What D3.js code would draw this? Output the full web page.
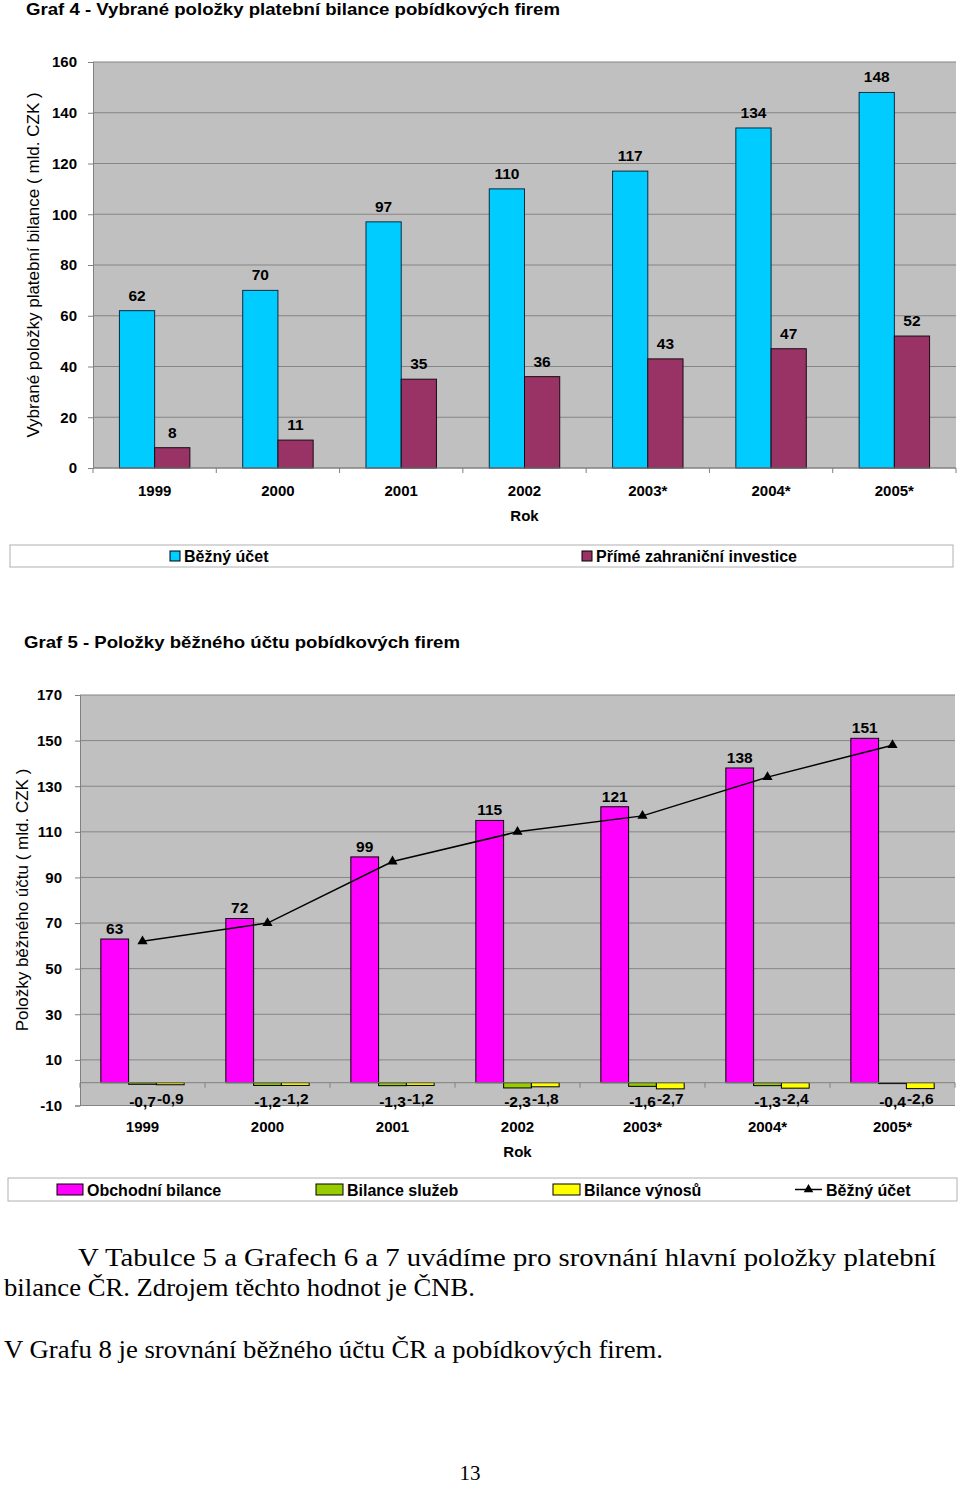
<!DOCTYPE html>
<html>
<head>
<meta charset="utf-8">
<script src="https://cdn.jsdelivr.net/npm/d3@7/dist/d3.min.js"></script>
<style>
  body { margin: 0; background: #fff; }
  svg { display: block; }
</style>
</head>
<body>
<div id="page"></div>
<script>
// ---------------- data ----------------
var years = ["1999", "2000", "2001", "2002", "2003*", "2004*", "2005*"];

// Graf 4
var bezny4 = [62, 70, 97, 110, 117, 134, 148];
var pzi4 = [8, 11, 35, 36, 43, 47, 52];
var ticks4 = [0, 20, 40, 60, 80, 100, 120, 140, 160];

// Graf 5
var obchodni5 = [63, 72, 99, 115, 121, 138, 151];
var sluzby5 = [-0.7, -1.2, -1.3, -2.3, -1.6, -1.3, -0.4];
var vynosy5 = [-0.9, -1.2, -1.2, -1.8, -2.7, -2.4, -2.6];
var bezny5 = [62, 70, 97, 110, 117, 134, 148];
var ticks5 = [-10, 10, 30, 50, 70, 90, 110, 130, 150, 170];

var SANS = "'Liberation Sans', Arial, Helvetica, sans-serif";
var SERIF = "'Liberation Serif', 'Times New Roman', Times, serif";

var fmt = function(v) { return String(v).replace(".", ","); };

var svg = d3.select("#page").append("svg")
    .attr("width", 960)
    .attr("height", 1485);

svg.append("rect").attr("width", 960).attr("height", 1485).attr("fill", "#fff");

//------------------------ helper: one grouped bar chart ------------------------//
function drawChart(cfg) {
    var g = svg.append("g").attr("font-family", SANS);

    var x = d3.scaleBand().domain(years).range([cfg.x0, cfg.x1]).padding(0);
    var n = cfg.series.length;
    var groupW = x.step() * n / (n + 1.5);
    var xs = d3.scaleBand().domain(d3.range(n)).range([-groupW / 2, groupW / 2]).padding(0);
    var y = d3.scaleLinear().domain(cfg.domain).range([cfg.y1, cfg.y0]);

    // plot area
    g.append("rect")
        .attr("x", cfg.x0).attr("y", cfg.y0)
        .attr("width", cfg.x1 - cfg.x0).attr("height", cfg.y1 - cfg.y0)
        .attr("fill", "#c0c0c0");

    // gridlines
    g.selectAll(".grid").data(cfg.ticks).enter().append("line")
        .attr("x1", cfg.x0).attr("x2", cfg.x1)
        .attr("y1", function(d) { return y(d); })
        .attr("y2", function(d) { return y(d); })
        .attr("stroke", "#858585").attr("stroke-width", 1);

    // y axis
    var ya = g.append("g")
        .attr("transform", "translate(" + cfg.x0 + ",0)")
        .call(d3.axisLeft(y).tickValues(cfg.ticks).tickSize(5).tickPadding(cfg.tickPad)
            .tickFormat(function(d) { return String(d); }));
    ya.select(".domain").attr("stroke", "#808080");
    ya.selectAll(".tick line").attr("stroke", "#808080");
    ya.selectAll("text")
        .attr("font-family", SANS)
        .style("font-size", "15px").style("font-weight", "bold").attr("fill", "#000");

    // bars
    cfg.series.forEach(function(s, si) {
        g.selectAll(".bar" + si).data(s.values).enter().append("rect")
            .attr("x", function(d, i) { return x(years[i]) + x.step() / 2 + xs(si); })
            .attr("width", xs.bandwidth())
            .attr("y", function(d) { return y(Math.max(0, d)); })
            .attr("height", function(d) { return Math.abs(y(d) - y(0)); })
            .attr("fill", s.color)
            .attr("stroke", s.stroke)
            .attr("stroke-width", 1);
    });

    // x axis line at zero with category ticks
    g.append("line")
        .attr("x1", cfg.x0).attr("x2", cfg.x1)
        .attr("y1", y(0)).attr("y2", y(0))
        .attr("stroke", "#808080");
    g.selectAll(".xtick").data(d3.range(years.length + 1)).enter().append("line")
        .attr("x1", function(i) { return cfg.x0 + i * x.step(); })
        .attr("x2", function(i) { return cfg.x0 + i * x.step(); })
        .attr("y1", y(0)).attr("y2", y(0) + 5)
        .attr("stroke", "#808080");

    // line series
    if (cfg.line) {
        var lineGen = d3.line()
            .x(function(d, i) { return x(years[i]) + x.step() / 2; })
            .y(function(d) { return y(d); });
        g.append("path")
            .datum(cfg.line)
            .attr("d", lineGen)
            .attr("fill", "none").attr("stroke", "#000").attr("stroke-width", 1.5);
        g.selectAll(".mk").data(cfg.line).enter().append("path")
            .attr("d", d3.symbol().type(d3.symbolTriangle).size(45))
            .attr("transform", function(d, i) {
                return "translate(" + (x(years[i]) + x.step() / 2) + "," + y(d) + ")";
            })
            .attr("fill", "#000");
    }

    // value labels
    cfg.series.forEach(function(s, si) {
        g.selectAll(".lab" + si).data(s.values).enter().append("text")
            .attr("x", function(d, i) { return x(years[i]) + x.step() / 2 + xs(si) + xs.bandwidth() / 2; })
            .attr("y", function(d) { return d >= 0 ? y(d) - cfg.labOff : y(0) + s.negOff; })
            .attr("text-anchor", "middle")
            .style("font-size", "15.5px").style("font-weight", "bold")
            .text(function(d) { return fmt(d); });
    });

    // category labels
    g.selectAll(".cat").data(years).enter().append("text")
        .attr("x", function(d) { return x(d) + x.step() / 2; })
        .attr("y", cfg.catY)
        .attr("text-anchor", "middle")
        .style("font-size", "15px").style("font-weight", "bold")
        .text(function(d) { return d; });

    g.append("text")
        .attr("x", x(years[3]) + x.step() / 2).attr("y", cfg.catY + 25)
        .attr("text-anchor", "middle")
        .style("font-size", "15px").style("font-weight", "bold")
        .text("Rok");

    // y title
    g.append("text")
        .attr("transform", "translate(" + cfg.yTitleX + "," + cfg.yTitleY + ") rotate(-90)")
        .attr("text-anchor", "middle")
        .style("font-size", "17px")
        .text(cfg.yTitle);

    // chart title
    g.append("text")
        .attr("x", cfg.titleX).attr("y", cfg.titleY)
        .attr("textLength", cfg.titleLen).attr("lengthAdjust", "spacingAndGlyphs")
        .style("font-size", "17px").style("font-weight", "bold")
        .text(cfg.title);

    // legend
    var lg = cfg.legend;
    g.append("rect")
        .attr("x", lg.x).attr("y", lg.y).attr("width", lg.w).attr("height", lg.h)
        .attr("fill", "#fff").attr("stroke", "#b0b0b0");
    lg.items.forEach(function(it) {
        if (it.type === "line") {
            g.append("line")
                .attr("x1", it.x).attr("x2", it.x + it.sw)
                .attr("y1", lg.y + lg.h / 2).attr("y2", lg.y + lg.h / 2)
                .attr("stroke", "#000").attr("stroke-width", 1.5);
            g.append("path")
                .attr("d", d3.symbol().type(d3.symbolTriangle).size(40))
                .attr("transform", "translate(" + (it.x + it.sw / 2) + "," + (lg.y + lg.h / 2) + ")");
        } else {
            g.append("rect")
                .attr("x", it.x).attr("y", lg.y + (lg.h - it.sh) / 2)
                .attr("width", it.sw).attr("height", it.sh)
                .attr("fill", it.color).attr("stroke", "#000");
        }
        g.append("text")
            .attr("x", it.x + it.sw + 4).attr("y", lg.y + lg.h / 2 + 6)
            .style("font-size", "16px").style("font-weight", "bold")
            .text(it.label);
    });
}

//------------------------ Graf 4 ------------------------//
drawChart({
    x0: 93, x1: 956, y0: 62, y1: 468,
    domain: [0, 160], ticks: ticks4, tickPad: 11,
    series: [
        { values: bezny4, color: "#00ccff", stroke: "#0a2a40", negOff: 0 },
        { values: pzi4, color: "#993366", stroke: "#1a0a10", negOff: 0 }
    ],
    labOff: 10,
    catY: 496,
    yTitle: "Vybrané položky platební bilance ( mld. CZK )",
    yTitleX: 39, yTitleY: 265,
    title: "Graf 4 - Vybrané položky platební bilance pobídkových firem",
    titleX: 26, titleY: 15, titleLen: 534,
    legend: {
        x: 10, y: 545, w: 943, h: 22,
        items: [
            { color: "#00ccff", label: "Běžný účet", x: 170, sw: 10, sh: 10 },
            { color: "#993366", label: "Přímé zahraniční investice", x: 582, sw: 10, sh: 10 }
        ]
    }
});

//------------------------ Graf 5 ------------------------//
drawChart({
    x0: 80, x1: 955, y0: 695, y1: 1105.5,
    domain: [-10, 170], ticks: ticks5, tickPad: 13,
    series: [
        { values: obchodni5, color: "#ff00ff", stroke: "#000", negOff: 0 },
        { values: sluzby5, color: "#99cc00", stroke: "#000", negOff: 24 },
        { values: vynosy5, color: "#ffff00", stroke: "#000", negOff: 21 }
    ],
    line: bezny5,
    labOff: 5,
    catY: 1132,
    yTitle: "Položky běžného účtu ( mld. CZK )",
    yTitleX: 28, yTitleY: 900,
    title: "Graf 5 - Položky běžného účtu pobídkových firem",
    titleX: 24, titleY: 648, titleLen: 436,
    legend: {
        x: 8, y: 1178, w: 949, h: 23,
        items: [
            { color: "#ff00ff", label: "Obchodní bilance", x: 57, sw: 26, sh: 11 },
            { color: "#99cc00", label: "Bilance služeb", x: 316, sw: 27, sh: 11 },
            { color: "#ffff00", label: "Bilance výnosů", x: 553, sw: 27, sh: 11 },
            { type: "line", label: "Běžný účet", x: 795, sw: 27 }
        ]
    }
});

//------------------------ body text ------------------------//
var para = svg.append("g").attr("font-family", SERIF).attr("font-size", 26).attr("fill", "#000");
para.append("text").attr("x", 78).attr("y", 1266)
    .attr("textLength", 858).attr("lengthAdjust", "spacingAndGlyphs")
    .text("V Tabulce 5 a Grafech 6 a 7 uvádíme pro srovnání hlavní položky platební");
para.append("text").attr("x", 4).attr("y", 1296)
    .attr("textLength", 471).attr("lengthAdjust", "spacingAndGlyphs")
    .text("bilance ČR. Zdrojem těchto hodnot je ČNB.");
para.append("text").attr("x", 4).attr("y", 1358)
    .attr("textLength", 659).attr("lengthAdjust", "spacingAndGlyphs")
    .text("V Grafu 8 je srovnání běžného účtu ČR a pobídkových firem.");
para.append("text").attr("x", 470).attr("y", 1480)
    .attr("text-anchor", "middle").attr("font-size", 21)
    .text("13");
</script>
</body>
</html>
